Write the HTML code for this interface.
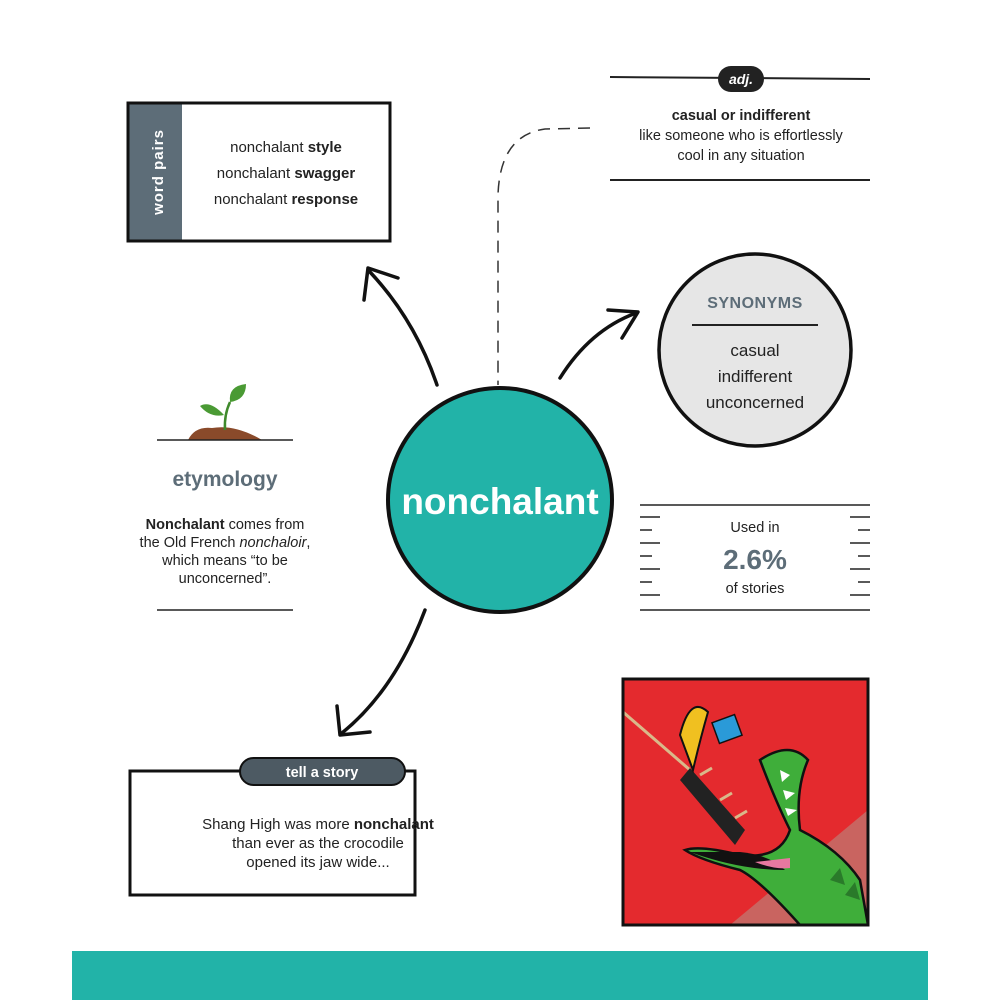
<!DOCTYPE html>
<html><head><style>
html,body{margin:0;padding:0;background:#fff;}
svg{display:block;}
text{font-family:"Liberation Sans",sans-serif;}
</style></head><body>
<svg width="1000" height="1000" viewBox="0 0 1000 1000" xmlns="http://www.w3.org/2000/svg">
<rect width="1000" height="1000" fill="#fff"/>
<!-- word pairs -->
<rect x="128" y="103" width="54" height="138" fill="#5d6d78"/>
<rect x="128" y="103" width="262" height="138" fill="none" stroke="#111" stroke-width="3"/>
<text transform="translate(163,172) rotate(-90)" text-anchor="middle" font-size="15" font-weight="bold" fill="#fff" letter-spacing="1">word pairs</text>
<g font-size="15" fill="#222" text-anchor="middle">
<text x="286" y="152">nonchalant <tspan font-weight="bold">style</tspan></text>
<text x="286" y="178">nonchalant <tspan font-weight="bold">swagger</tspan></text>
<text x="286" y="204">nonchalant <tspan font-weight="bold">response</tspan></text>
</g>
<!-- adj -->
<line x1="610" y1="77" x2="870" y2="79" stroke="#222" stroke-width="2"/>
<rect x="718" y="66" width="46" height="26" rx="13" fill="#222"/>
<text x="741" y="84" text-anchor="middle" font-size="14" font-weight="bold" font-style="italic" fill="#fff">adj.</text>
<g font-size="14.5" fill="#222" text-anchor="middle">
<text x="741" y="120" font-weight="bold">casual or indifferent</text>
<text x="741" y="140">like someone who is effortlessly</text>
<text x="741" y="160">cool in any situation</text>
</g>
<line x1="610" y1="180" x2="870" y2="180" stroke="#222" stroke-width="2"/>
<!-- dashed -->
<path d="M590 128 L545 129 Q500 135 498 195 L498 385" fill="none" stroke="#333" stroke-width="1.5" stroke-dasharray="12 8"/>
<!-- synonyms -->
<circle cx="755" cy="350" r="96" fill="#e6e6e6" stroke="#111" stroke-width="3.5"/>
<text x="755" y="308" text-anchor="middle" font-size="16" font-weight="bold" fill="#5d6d78" letter-spacing="0.5">SYNONYMS</text>
<line x1="692" y1="325" x2="818" y2="325" stroke="#222" stroke-width="2"/>
<g font-size="17" fill="#222" text-anchor="middle">
<text x="755" y="356">casual</text>
<text x="755" y="382">indifferent</text>
<text x="755" y="408">unconcerned</text>
</g>
<!-- arrows -->
<g fill="none" stroke="#111" stroke-width="3.5" stroke-linecap="round" stroke-linejoin="round">
<path d="M437 385 Q415 320 370 272"/>
<path d="M364 300 L368 268 L398 278"/>
<path d="M560 378 Q590 330 636 313"/>
<path d="M608 310 L638 312 L622 338"/>
<path d="M425 610 Q395 690 342 733"/>
<path d="M337 706 L340 735 L370 732"/>
</g>
<!-- center -->
<circle cx="500" cy="500" r="112" fill="#22b3a8" stroke="#111" stroke-width="4"/>
<text x="500" y="514" text-anchor="middle" font-size="37" font-weight="bold" fill="#fff">nonchalant</text>
<!-- etymology -->
<path d="M188 440 Q195 426 212 428 Q235 424 262 440 Z" fill="#8a4a2a"/>
<path d="M225 430 Q224 415 230 402" stroke="#3f8a2c" stroke-width="2.5" fill="none"/>
<path d="M230 402 Q228 386 246 384 Q246 400 230 402Z" fill="#4a9a34"/>
<path d="M224 415 Q210 400 200 406 Q210 418 224 415Z" fill="#4a9a34"/>
<line x1="157" y1="440" x2="293" y2="440" stroke="#222" stroke-width="1.5"/>
<text x="225" y="486" text-anchor="middle" font-size="21" font-weight="bold" fill="#5d6d78">etymology</text>
<g font-size="14.5" fill="#222" text-anchor="middle">
<text x="225" y="529"><tspan font-weight="bold">Nonchalant</tspan> comes from</text>
<text x="225" y="547">the Old French <tspan font-style="italic">nonchaloir</tspan>,</text>
<text x="225" y="565">which means “to be</text>
<text x="225" y="583">unconcerned”.</text>
</g>
<line x1="157" y1="610" x2="293" y2="610" stroke="#222" stroke-width="1.5"/>
<!-- stats -->
<line x1="640" y1="505" x2="870" y2="505" stroke="#222" stroke-width="1.5"/>
<line x1="640" y1="610" x2="870" y2="610" stroke="#222" stroke-width="1.5"/>
<g stroke="#222" stroke-width="1.5">
<line x1="640" y1="517" x2="660" y2="517"/><line x1="640" y1="530" x2="652" y2="530"/><line x1="640" y1="543" x2="660" y2="543"/><line x1="640" y1="556" x2="652" y2="556"/><line x1="640" y1="569" x2="660" y2="569"/><line x1="640" y1="582" x2="652" y2="582"/><line x1="640" y1="595" x2="660" y2="595"/>
<line x1="850" y1="517" x2="870" y2="517"/><line x1="858" y1="530" x2="870" y2="530"/><line x1="850" y1="543" x2="870" y2="543"/><line x1="858" y1="556" x2="870" y2="556"/><line x1="850" y1="569" x2="870" y2="569"/><line x1="858" y1="582" x2="870" y2="582"/><line x1="850" y1="595" x2="870" y2="595"/>
</g>
<text x="755" y="532" text-anchor="middle" font-size="14.5" fill="#222">Used in</text>
<text x="755" y="569" text-anchor="middle" font-size="28" font-weight="bold" fill="#5d6d78">2.6%</text>
<text x="755" y="593" text-anchor="middle" font-size="14.5" fill="#222">of stories</text>
<!-- tell a story -->
<rect x="130" y="771" width="285" height="124" fill="none" stroke="#111" stroke-width="3"/>
<rect x="240" y="758" width="165" height="27" rx="13.5" fill="#4d5a63" stroke="#111" stroke-width="2"/>
<text x="322" y="777" text-anchor="middle" font-size="14.5" font-weight="bold" fill="#fff">tell a story</text>
<g font-size="15" fill="#222" text-anchor="middle">
<text x="318" y="829">Shang High was more <tspan font-weight="bold">nonchalant</tspan></text>
<text x="318" y="848">than ever as the crocodile</text>
<text x="318" y="867">opened its jaw wide...</text>
</g>
<!-- illustration -->
<rect x="623" y="679" width="245" height="246" fill="#e42a2e"/>
<polygon points="730,925 868,810 868,925" fill="#c96460"/>
<line x1="623" y1="712" x2="690" y2="770" stroke="#d9b98a" stroke-width="3"/>
<path d="M690 768 L745 830 L735 845 L680 780Z" fill="#222"/>
<g stroke="#d9b98a" stroke-width="3"><line x1="700" y1="775" x2="712" y2="768"/><line x1="720" y1="800" x2="732" y2="793"/><line x1="735" y1="818" x2="747" y2="811"/></g>
<path d="M680 735 Q690 695 708 712 Q700 740 693 770Z" fill="#f0c020" stroke="#111" stroke-width="2"/>
<rect x="715" y="718" width="24" height="22" fill="#2a9ad8" stroke="#111" stroke-width="1.5" transform="rotate(-20 727 729)"/>
<path d="M760 760 Q790 740 808 760 Q795 790 800 830 Q840 850 860 880 L868 925 L800 925 Q760 880 740 870 Q700 860 685 850 Q700 845 740 855 Q780 860 790 830 Q775 800 760 760Z" fill="#3fae3a" stroke="#111" stroke-width="2.5"/>
<path d="M690 852 Q740 870 785 870 Q770 855 740 852Z" fill="#111"/>
<path d="M755 862 Q775 870 790 868 L790 858Z" fill="#e878a0"/>
<g fill="#fff"><polygon points="780,770 790,775 782,782"/><polygon points="783,790 795,793 786,800"/><polygon points="785,808 797,810 788,816"/></g>
<g fill="#2a7a2a"><polygon points="830,880 840,868 845,885"/><polygon points="845,895 855,882 860,900"/></g>
<rect x="623" y="679" width="245" height="246" fill="none" stroke="#111" stroke-width="3"/>
<!-- bottom band -->
<rect x="72" y="951" width="856" height="49" fill="#22b3a8"/>
</svg>
</body></html>
